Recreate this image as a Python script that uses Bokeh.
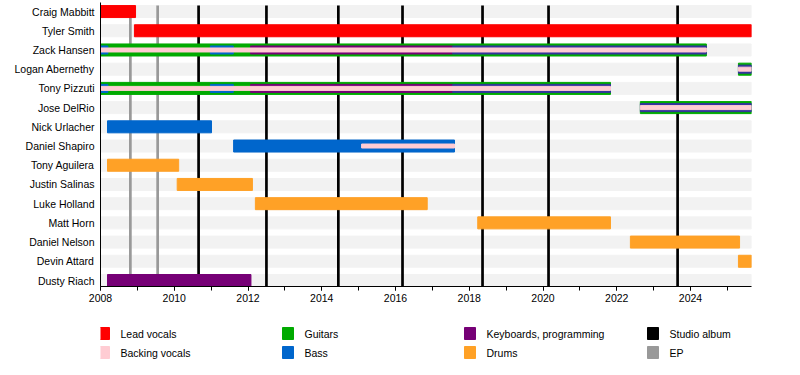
from bokeh.plotting import figure
from bokeh.models import Range1d, FixedTicker, SingleIntervalTicker
from bokeh.layouts import column
from bokeh.embed import file_html
from bokeh.resources import INLINE
from bokeh.core.properties import value

# ---------------- data ----------------
members = ["Craig Mabbitt", "Tyler Smith", "Zack Hansen", "Logan Abernethy", "Tony Pizzuti",
           "Jose DelRio", "Nick Urlacher", "Daniel Shapiro", "Tony Aguilera", "Justin Salinas",
           "Luke Holland", "Matt Horn", "Daniel Nelson", "Devin Attard", "Dusty Riach"]

START = 2008.0
END = 2025.654

# primary bars (one per member)
bar_member = members
bar_start = [2008.0, 2008.92, 2008.0, 2025.3, 2008.0, 2022.64, 2008.19, 2011.61,
             2008.19, 2010.08, 2012.2, 2018.23, 2022.37, 2025.3, 2008.19]
bar_end = [2008.95, END, 2024.43, END, 2021.83, END, 2011.01, 2017.6,
           2010.12, 2012.12, 2016.86, 2021.83, 2025.33, END, 2012.08]
bar_role = ["Lead vocals", "Lead vocals", "Guitars", "Guitars", "Guitars", "Guitars",
            "Bass", "Bass", "Drums", "Drums", "Drums", "Drums", "Drums", "Drums",
            "Keyboards, programming"]

# secondary (inner) bars
sec_member = ["Zack Hansen"] * 4 + ["Tony Pizzuti"] * 4 + ["Jose DelRio", "Logan Abernethy"]
sec_start = [2008.0, 2010.98, 2012.07, 2017.55, 2008.0, 2010.98, 2012.07, 2017.55, 2022.64, 2025.3]
sec_end = [2008.2, 2011.6, 2017.55, 2024.43, 2008.2, 2011.6, 2017.55, 2021.83, END, END]
sec_role = ["Bass", "Bass", "Keyboards, programming", "Bass (dark)",
            "Bass", "Bass", "Keyboards, programming", "Bass (dark)",
            "Bass (dark)", "Bass (dark)"]

# tertiary (centre) bars: backing vocals
ter_member = ["Zack Hansen", "Tony Pizzuti", "Jose DelRio", "Logan Abernethy", "Daniel Shapiro"]
ter_start = [2008.0, 2008.0, 2022.64, 2025.3, 2015.08]
ter_end = [2024.43, 2021.83, END, END, 2017.6]

studio_albums = [2010.66, 2012.50, 2014.45, 2016.19, 2018.36, 2020.15, 2023.65]
eps = [2008.81, 2009.55]

legend_labels = ["Lead vocals", "Backing vocals", "Guitars", "Bass",
                 "Keyboards, programming", "Drums", "Studio album", "EP"]

# ---------------- style ----------------
colors = {
    "Lead vocals": "#ff0000",
    "Backing vocals": "#ffccd3",
    "Guitars": "#00aa00",
    "Bass": "#0066cc",
    "Bass (dark)": "#34349c",
    "Keyboards, programming": "#760076",
    "Drums": "#ffa126",
    "Studio album": "#000000",
    "EP": "#999999",
}
FONT = "Liberation Sans"
FSIZE = "10.5px"
PX_PER_ROW = 284 / (14.471 + 0.3123)
n = len(members)
ypos = {m: n - 1 - i for i, m in enumerate(members)}

p = figure(frame_width=651, frame_height=284, min_border_left=100, min_border_right=39,
           min_border_top=2, min_border_bottom=24,
           x_range=Range1d(START, END), y_range=Range1d(-0.3123, 14.471),
           output_backend="svg", toolbar_location=None, tools="")
p.outline_line_color = None
p.xgrid.visible = False
p.ygrid.visible = False

# background stripes
p.hbar(y=[ypos[m] for m in members], left=START, right=END, height=12 / PX_PER_ROW,
       color="#f2f2f2")

# album lines
top = (n - 1) + 6 / PX_PER_ROW
bot = -0.3123
p.segment(x0=eps, x1=eps, y0=bot, y1=top, line_color=colors["EP"], line_width=2.7)
p.segment(x0=studio_albums, x1=studio_albums, y0=bot, y1=top,
          line_color=colors["Studio album"], line_width=2.7)

# bars
p.hbar(y=[ypos[m] for m in bar_member], left=bar_start, right=bar_end,
       height=12 / PX_PER_ROW, color=[colors[r] for r in bar_role])
p.hbar(y=[ypos[m] for m in sec_member], left=sec_start, right=sec_end,
       height=8 / PX_PER_ROW, color=[colors[r] for r in sec_role])
p.hbar(y=[ypos[m] for m in ter_member], left=ter_start, right=ter_end,
       height=4 / PX_PER_ROW, color=colors["Backing vocals"])

# axes
p.yaxis.ticker = FixedTicker(ticks=list(range(n)))
p.yaxis.major_label_overrides = {ypos[m]: m for m in members}
p.yaxis.major_tick_out = 0
p.yaxis.major_tick_in = 0
p.yaxis.minor_tick_out = 0
p.yaxis.minor_tick_in = 0
p.yaxis.axis_line_color = "#000000"
p.yaxis.major_label_standoff = 6
p.yaxis.major_label_text_font = FONT
p.yaxis.major_label_text_font_size = FSIZE
p.yaxis.major_label_text_color = "#000000"

p.xaxis.ticker = SingleIntervalTicker(interval=2, num_minor_ticks=2)
p.xaxis.major_tick_out = 4
p.xaxis.major_tick_in = 0
p.xaxis.minor_tick_out = 4
p.xaxis.minor_tick_in = 0
p.xaxis.axis_line_color = "#000000"
p.xaxis.major_tick_line_color = "#000000"
p.xaxis.minor_tick_line_color = "#000000"
p.xaxis.major_label_standoff = 3
p.xaxis.major_label_text_font = FONT
p.xaxis.major_label_text_font_size = FSIZE
p.xaxis.major_label_text_color = "#000000"

# legend figure (frame aligned with the main frame: x pixels 100..751, y pixels 310..365)
lg = figure(frame_width=651, frame_height=55, min_border_left=100, min_border_right=39,
            min_border_top=0, min_border_bottom=0,
            x_range=Range1d(100, 751), y_range=Range1d(365, 310),
            output_backend="svg", toolbar_location=None, tools="")
lg.axis.visible = False
lg.grid.visible = False
lg.outline_line_color = None
col_x = [98, 282, 464, 647]
row_y = [333, 352]
sq_x = [col_x[i // 2] + 5.5 for i in range(len(legend_labels))]
sq_y = [row_y[i % 2] for i in range(len(legend_labels))]
lg.rect(x=sq_x, y=sq_y, width=11, height=12, color=[colors[l] for l in legend_labels])
lg.text(x=[x + 16.5 for x in sq_x], y=sq_y, text=legend_labels,
        text_font=value(FONT), text_font_size=FSIZE, text_baseline="middle",
        text_align="left", text_color="#000000")

layout = column(p, lg, spacing=0)
open("out.html", "w").write(file_html(layout, INLINE))
